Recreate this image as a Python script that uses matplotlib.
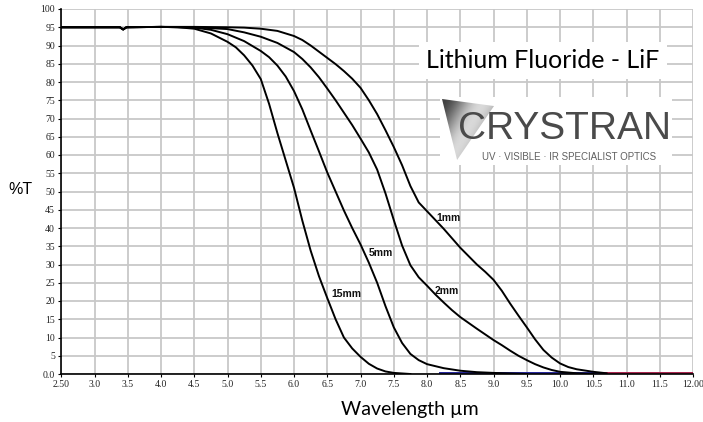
import matplotlib.pyplot as plt
import numpy as np
from matplotlib.patches import Polygon, Rectangle

# transmission curves (%T vs wavelength in um)
x_1mm = [2.5, 3.0, 3.38, 3.43, 3.48, 4.0, 4.5, 5.0, 5.25, 5.5, 5.75, 6.0, 6.125, 6.25, 6.375,
         6.5, 6.625, 6.75, 6.875, 7.0, 7.125, 7.25, 7.375, 7.5, 7.625, 7.75, 7.875, 8.0, 8.125,
         8.25, 8.375, 8.5, 8.625, 8.75, 8.875, 9.0, 9.125, 9.25, 9.375, 9.5, 9.625, 9.75, 9.875,
         10.0, 10.125, 10.25, 10.5, 10.7]
t_1mm = [95, 95, 95, 94.4, 95, 95.1, 95.1, 95, 94.9, 94.6, 94.0, 92.6, 91.5, 90.0, 88.3,
         86.6, 84.9, 83.0, 80.9, 78.4, 75.0, 71.2, 66.8, 62.2, 57.2, 51.5, 47.0, 44.6, 42.2,
         39.8, 37.2, 34.6, 32.3, 30.0, 28.0, 25.8, 22.8, 19.3, 16.0, 12.8, 9.5, 6.6, 4.5,
         2.9, 1.9, 1.3, 0.6, 0.2]

x_2mm = [2.5, 3.0, 3.38, 3.43, 3.48, 4.0, 4.5, 5.0, 5.25, 5.5, 5.75, 6.0, 6.125, 6.25, 6.375,
         6.5, 6.625, 6.75, 6.875, 7.0, 7.125, 7.25, 7.375, 7.5, 7.625, 7.75, 7.875, 8.0, 8.125,
         8.25, 8.375, 8.5, 8.75, 9.0, 9.125, 9.25, 9.375, 9.5, 9.625, 9.75, 9.875, 10.0, 10.25,
         10.5]
t_2mm = [95, 95, 95, 94.4, 95, 95.1, 95.0, 94.5, 93.6, 92.4, 90.7, 88.2, 86.3, 84.0, 81.3,
         78.2, 75.0, 71.6, 68.2, 64.5, 60.7, 56.0, 49.5, 42.2, 35.2, 29.8, 26.5, 24.2, 21.8,
         19.6, 17.5, 15.6, 12.4, 9.3, 7.9, 6.4, 5.0, 3.8, 2.7, 1.8, 1.1, 0.6, 0.2,
         0]

x_5mm = [2.5, 3.0, 3.38, 3.43, 3.48, 4.0, 4.5, 4.75, 5.0, 5.25, 5.5, 5.625, 5.75, 5.875, 6.0,
         6.125, 6.25, 6.375, 6.5, 6.625, 6.75, 6.875, 7.0, 7.125, 7.25, 7.375, 7.5, 7.625, 7.75,
         7.875, 8.0, 8.25, 8.5, 8.75, 9.0, 9.5]
t_5mm = [95, 95, 95, 94.4, 95, 95.1, 94.9, 94.3, 93.1, 91.2, 88.5, 86.8, 84.5, 81.5, 77.5,
         72.5, 66.7, 61.0, 55.2, 50.0, 44.8, 40.0, 35.5, 30.5, 25.0, 18.6, 12.8, 8.5, 5.5,
         3.8, 2.7, 1.6, 0.9, 0.5, 0.3, 0]

x_15mm = [2.5, 3.0, 3.38, 3.43, 3.48, 4.0, 4.25, 4.5, 4.75, 5.0, 5.125, 5.25, 5.375, 5.5, 5.625,
          5.75, 5.875, 6.0, 6.125, 6.25, 6.375, 6.5, 6.625, 6.75, 6.875, 7.0, 7.125, 7.25, 7.375,
          7.5, 7.75]
t_15mm = [95, 95, 95, 94.4, 95, 95.1, 95.0, 94.6, 93.3, 91.0, 89.5, 87.3, 84.5, 80.8, 74.0,
          66.0, 58.5, 51.0, 42.0, 33.8, 26.8, 20.8, 15.0, 10.0, 7.0, 4.7, 2.8, 1.5, 0.7,
          0.3, 0]

# coloured traces lying on the baseline
x_base_blue = [8.2, 10.65]
t_base_blue = [0.15, 0.15]
x_base_red = [10.65, 12.0]
t_base_red = [0.15, 0.15]

curve_labels = ["1mm", "2mm", "5mm", "15mm"]
label_x = [8.32, 8.29, 7.30, 6.78]
label_y = [42.7, 22.7, 33.1, 22.0]

xticks = np.arange(2.5, 12.01, 0.5)
xtick_labels = ["2.50"] + ["%.1f" % v for v in xticks[1:-1]] + ["12.00"]
yticks = np.arange(0, 101, 5)
ytick_labels = ["0.0"] + [str(v) for v in yticks[1:]]

W, H = 703, 422
fig = plt.figure(figsize=(W / 100, H / 100), dpi=100)
ax = fig.add_axes([61.3 / W, 48 / H, (693 - 61.3) / W, (374 - 9) / H])

for xs, ts in [(x_1mm, t_1mm), (x_2mm, t_2mm), (x_5mm, t_5mm), (x_15mm, t_15mm)]:
    ax.plot(xs, ts, color="black", lw=1.4, zorder=3, solid_joinstyle="round")
ax.plot(x_base_blue, t_base_blue, color="#23239a", lw=1.4, zorder=2)
ax.plot(x_base_red, t_base_red, color="#a8204c", lw=1.4, zorder=2)

for lab, lx, ly in zip(curve_labels, label_x, label_y):
    ax.text(lx, ly, lab, fontsize=7.5, fontweight="bold", family="Liberation Sans",
            ha="center", va="center", color="#111111", zorder=4)

ax.set_xlim(2.5, 12.0)
ax.set_ylim(0, 100)
ax.set_xticks(xticks)
ax.set_xticklabels(xtick_labels, family="Liberation Serif", fontsize=7, color="#222222")
ax.set_yticks(yticks)
ax.set_yticklabels(ytick_labels, family="Liberation Serif", fontsize=7, color="#222222")
ax.tick_params(axis="both", length=2.5, width=0.8, pad=2)
ax.grid(True, color="#c8c8c8", lw=1.3)
ax.set_axisbelow(True)
for s in ["top", "right"]:
    ax.spines[s].set_visible(False)
for s in ["left", "bottom"]:
    ax.spines[s].set_linewidth(1.2)
    ax.spines[s].set_zorder(5)

# axis titles
fig.text(20 / W, 1 - 190 / H, "%T", family="Liberation Sans", fontsize=11.5,
         ha="center", va="center")
fig.text(410 / W, 1 - 409 / H, "Wavelength µm", family="Lato", fontsize=14,
         ha="center", va="center")

# title box
fig.text(543 / W, 1 - 60 / H, "Lithium Fluoride - LiF", family="Lato", fontsize=18,
         ha="center", va="center",
         bbox=dict(facecolor="white", edgecolor="none", pad=5))

# logo
fig.patches.append(Rectangle((440 / W, 1 - 165 / H), 232 / W, 68 / H,
                             transform=fig.transFigure, facecolor="white", edgecolor="none"))
gax = fig.add_axes([442 / W, 1 - 160 / H, 52 / W, 61 / H])
gax.set_zorder(3)
u = np.linspace(0, 1, 64)
shade = 0.25 + 0.6 * np.sin(np.pi * (u[None, :] * 0.6 + (1 - u[:, None]) * 0.4)) ** 2
gax.imshow(shade, cmap="gray", aspect="auto", extent=[0, 1, 0, 1], vmin=0, vmax=1,
           origin="lower")
gclip = Polygon([(0, 1), (1, 0.885), (0.29, 0)], closed=True, transform=gax.transAxes)
gax.images[0].set_clip_path(gclip)
gax.axis("off")
fig.text(565 / W, 1 - 129 / H, "CRYSTRAN", family="Liberation Sans", fontsize=28,
         color="#4a4a4a", ha="center", va="center", zorder=4)
fig.text(569 / W, 1 - 157 / H, "UV · VISIBLE · IR SPECIALIST OPTICS", family="Liberation Sans",
         fontsize=7, color="#606060", ha="center", va="center", zorder=4)

fig.savefig("out.png", dpi=100)
